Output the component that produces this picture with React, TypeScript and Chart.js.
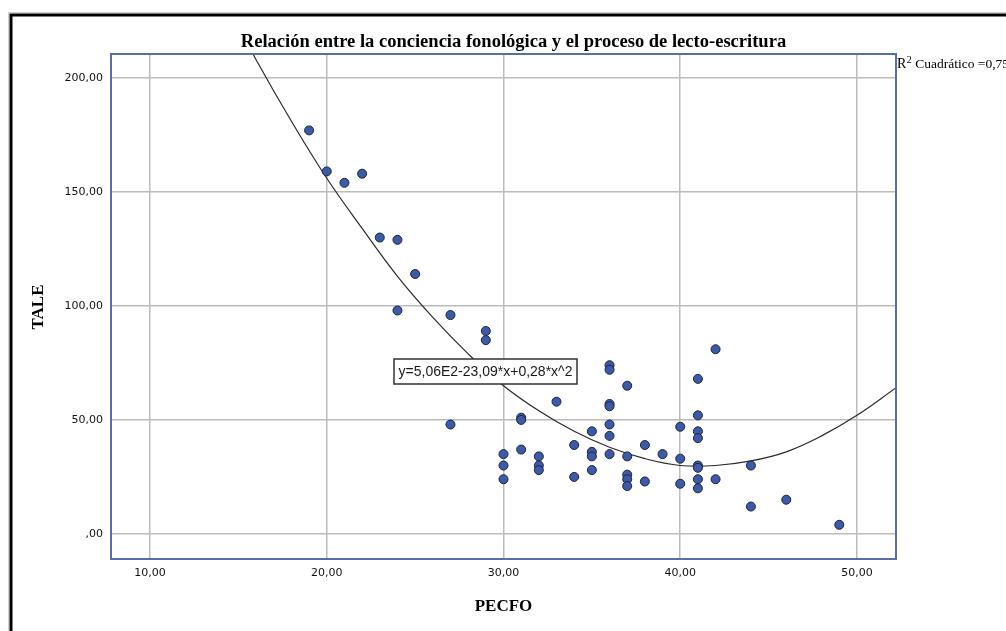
import { useEffect, useRef } from "react";
import { Chart, registerables } from "chart.js";

Chart.register(...registerables);

// Scatter data (PECFO vs TALE)
const pecfo = [
  19, 20, 21, 22, 23, 24, 25, 24, 27, 29, 29, 27,
  30, 30, 30, 31, 31, 31, 32, 32, 32, 33, 34, 34,
  35, 35, 35, 35, 36, 36, 36, 36, 36, 36, 36,
  37, 37, 37, 37, 37, 38, 38, 39, 40, 40, 40,
  41, 41, 41, 41, 41, 41, 41, 41, 42, 42, 44, 44, 46, 49,
];
const tale = [
  177, 159, 154, 158, 130, 129, 114, 98, 96, 89, 85, 48,
  35, 30, 24, 51, 50, 37, 34, 30, 28, 58, 39, 25,
  45, 36, 34, 28, 74, 72, 57, 56, 48, 43, 35,
  65, 34, 26, 24, 21, 39, 23, 35, 47, 33, 22,
  68, 52, 45, 42, 30, 29, 24, 20, 81, 24, 30, 12, 15, 4,
];

// Quadratic fit curve at sample x positions
const fitX = [15, 16, 18, 20, 22, 24, 26, 28, 30, 32, 34, 36, 38, 40, 42, 44, 46, 48, 50, 52.2];
const fitY = [223, 208, 181, 156, 134, 113, 95, 79, 65, 54, 45, 38, 33, 30, 30, 32, 36, 43, 52, 64];

const xTicks = [10, 20, 30, 40, 50];
const yTicks = [0, 50, 100, 150, 200];

const titleText = "Relación entre la conciencia fonológica y el proceso de lecto-escritura";
const xTitle = "PECFO";
const yTitle = "TALE";
const equationText = "y=5,06E2-23,09*x+0,28*x^2";
const r2Label = " Cuadrático =0,75";

const fmt = (v: number) => (v === 0 ? ",00" : v.toFixed(2).replace(".", ","));

const decorPlugin = {
  id: "decor",
  beforeDraw(chart: any) {
    const ctx = chart.ctx;
    ctx.save();
    ctx.fillStyle = "#ffffff";
    ctx.fillRect(0, 0, chart.width, chart.height);
    ctx.restore();
  },
  afterDraw(chart: any) {
    const ctx = chart.ctx as CanvasRenderingContext2D;
    const ca = chart.chartArea;
    ctx.save();

    // plot frame
    ctx.strokeStyle = "#5a6da6";
    ctx.lineWidth = 2;
    ctx.strokeRect(ca.left, ca.top, ca.right - ca.left, ca.bottom - ca.top);

    // outer frame
    ctx.strokeStyle = "#cfcfcf";
    ctx.lineWidth = 1;
    ctx.strokeRect(8.5, 12.5, 1100, 700);
    ctx.strokeStyle = "#000000";
    ctx.lineWidth = 3;
    ctx.strokeRect(11, 15, 1100, 700);

    // title (fit to width)
    ctx.fillStyle = "#000000";
    let size = 16;
    ctx.font = `bold ${size}px "Liberation Serif", "DejaVu Serif", serif`;
    const w16 = ctx.measureText(titleText).width;
    size = (16 * 546) / w16;
    ctx.font = `bold ${size.toFixed(2)}px "Liberation Serif", "DejaVu Serif", serif`;
    ctx.textAlign = "center";
    ctx.textBaseline = "alphabetic";
    ctx.fillText(titleText, 513.5, 46.5);

    // x axis title
    ctx.font = `bold 17px "Liberation Serif", "DejaVu Serif", serif`;
    ctx.textBaseline = "middle";
    ctx.fillText(xTitle, (ca.left + ca.right) / 2, 607);

    // y axis title
    ctx.save();
    ctx.translate(39, 307);
    ctx.rotate(-Math.PI / 2);
    ctx.fillText(yTitle, 0, 0);
    ctx.restore();

    // R2 label
    ctx.textAlign = "left";
    ctx.textBaseline = "alphabetic";
    ctx.font = `14px "Liberation Serif", "DejaVu Serif", serif`;
    const rx = ca.right + 1;
    ctx.fillText("R", rx, 68);
    const rw = ctx.measureText("R").width;
    ctx.font = `10px "Liberation Serif", "DejaVu Serif", serif`;
    ctx.fillText("2", rx + rw + 0.5, 63);
    const sw = ctx.measureText("2").width;
    ctx.font = `13.5px "Liberation Serif", "DejaVu Serif", serif`;
    ctx.fillText(r2Label, rx + rw + sw + 0.5, 68);

    // equation box
    const bx = ca.left + 283;
    const by = ca.top + 305;
    const bw = 183;
    const bh = 25;
    ctx.fillStyle = "#ffffff";
    ctx.fillRect(bx, by, bw, bh);
    ctx.strokeStyle = "#333333";
    ctx.lineWidth = 1.5;
    ctx.strokeRect(bx, by, bw, bh);
    ctx.fillStyle = "#1a1a1a";
    ctx.font = `14px "Liberation Sans", Arial, sans-serif`;
    ctx.textAlign = "center";
    ctx.textBaseline = "middle";
    ctx.fillText(equationText, bx + bw / 2, by + bh / 2 + 0.5);

    ctx.restore();
  },
};

export default function App() {
  const ref = useRef<HTMLCanvasElement | null>(null);

  useEffect(() => {
    if (!ref.current) return;
    const points = pecfo.map((x, i) => ({ x, y: tale[i] }));
    const curve = fitX.map((x, i) => ({ x, y: fitY[i] }));
    const tickFont = { family: '"DejaVu Sans", sans-serif', size: 11 };

    const chart = new Chart(ref.current, {
      type: "scatter",
      data: {
        datasets: [
          {
            label: "TALE",
            data: points,
            pointRadius: 4.5,
            pointHoverRadius: 4.5,
            backgroundColor: "#3c5aa8",
            borderColor: "#1c2440",
            borderWidth: 1,
            order: 1,
          },
          {
            label: "fit",
            data: curve,
            showLine: true,
            pointRadius: 0,
            borderColor: "#2b2b2b",
            borderWidth: 1.2,
            tension: 0.4,
            fill: false,
            order: 2,
          } as any,
        ],
      },
      options: {
        responsive: false,
        animation: false,
        devicePixelRatio: 1,
        layout: { padding: { left: 0, top: 54, right: 110, bottom: 0 } },
        plugins: {
          legend: { display: false },
          title: { display: false },
          tooltip: { enabled: false },
        },
        scales: {
          x: {
            type: "linear",
            min: 7.79,
            max: 52.21,
            afterBuildTicks: (scale: any) => {
              scale.ticks = xTicks.map((v) => ({ value: v }));
            },
            afterFit: (scale: any) => {
              scale.height = 72;
            },
            ticks: {
              autoSkip: false,
              maxRotation: 0,
              padding: 8,
              color: "#111111",
              font: tickFont,
              callback: (v: any) => fmt(Number(v)),
            },
            grid: { color: "#bcbcbc", lineWidth: 1.5, drawTicks: false },
            border: { display: false },
          },
          y: {
            type: "linear",
            min: -11,
            max: 210.5,
            afterBuildTicks: (scale: any) => {
              scale.ticks = yTicks.map((v) => ({ value: v }));
            },
            afterFit: (scale: any) => {
              scale.width = 111;
            },
            ticks: {
              autoSkip: false,
              padding: 8,
              color: "#111111",
              font: tickFont,
              callback: (v: any) => fmt(Number(v)),
            },
            grid: { color: "#bcbcbc", lineWidth: 1.5, drawTicks: false },
            border: { display: false },
          },
        },
      },
      plugins: [decorPlugin],
    });
    return () => chart.destroy();
  }, []);

  return (
    <div style={{ position: "absolute", left: 0, top: 0, width: 1006, height: 631, background: "#fff" }}>
      <canvas ref={ref} width={1006} height={631} style={{ width: 1006, height: 631, display: "block" }} />
    </div>
  );
}
